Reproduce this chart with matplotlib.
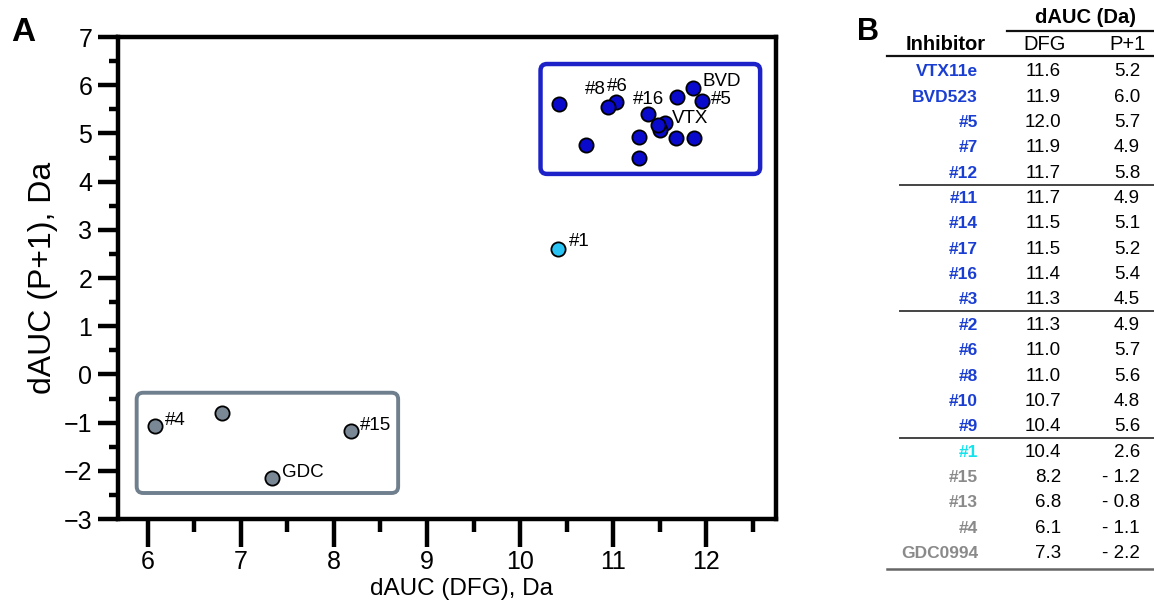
import matplotlib.pyplot as plt
from matplotlib.patches import FancyBboxPatch
from matplotlib import font_manager
import numpy as np

plt.rcParams['font.family'] = ['Liberation Sans', 'DejaVu Sans']

# table data (panel B)
names = ['VTX11e', 'BVD523', '#5', '#7', '#12', '#11', '#14', '#17', '#16', '#3',
         '#2', '#6', '#8', '#10', '#9', '#1', '#15', '#13', '#4', 'GDC0994']
dfg = [11.6, 11.9, 12.0, 11.9, 11.7, 11.7, 11.5, 11.5, 11.4, 11.3,
       11.3, 11.0, 11.0, 10.7, 10.4, 10.4, 8.2, 6.8, 6.1, 7.3]
p1 = [5.2, 6.0, 5.7, 4.9, 5.8, 4.9, 5.1, 5.2, 5.4, 4.5,
      4.9, 5.7, 5.6, 4.8, 5.6, 2.6, -1.2, -0.8, -1.1, -2.2]
group = ['blue'] * 15 + ['cyan'] + ['gray'] * 4

# point positions (panel A), same order as names
plot_x = [11.56, 11.86, 11.95, 11.87, 11.69, 11.68, 11.50, 11.48, 11.38, 11.28,
          11.28, 11.03, 10.95, 10.71, 10.42, 10.41, 8.18, 6.80, 6.08, 7.33]
plot_y = [5.22, 5.94, 5.67, 4.90, 5.75, 4.90, 5.07, 5.17, 5.40, 4.50,
          4.92, 5.65, 5.54, 4.77, 5.62, 2.60, -1.17, -0.81, -1.07, -2.14]

# labels drawn next to some points: text, offset (pt), ha
point_labels = {
    'BVD523': ('BVD', (7, 4.9), 'left'),
    '#5': ('#5', (6.5, 1.4), 'left'),
    'VTX11e': ('VTX', (4.8, 3.4), 'left'),
    '#16': ('#16', (0, 10.3), 'center'),
    '#8': ('#8', (-1.7, 12.8), 'right'),
    '#6': ('#6', (1.3, 11.4), 'center'),
    '#1': ('#1', (8, 5.5), 'left'),
    '#4': ('#4', (7.2, 4.3), 'left'),
    '#15': ('#15', (6.7, 3.7), 'left'),
    'GDC0994': ('GDC', (7.2, 3.7), 'left'),
}

fill = {'blue': '#0a0acd', 'cyan': '#2ac4f4', 'gray': '#7a8896'}
name_col = {'blue': '#1a3ed2', 'cyan': '#12e4ee', 'gray': '#8a8a8a'}

# condensed font for the axis texts if present
try:
    font_manager.findfont('Liberation Sans Narrow', fallback_to_default=False)
    axfam = ['Liberation Sans Narrow', 'Liberation Sans']
    tick_fs, xl_fs, yl_fs = 21, 22, 24
except ValueError:
    axfam = ['Liberation Sans', 'DejaVu Sans']
    tick_fs, xl_fs, yl_fs = 18, 17.5, 23

fig = plt.figure(figsize=(11.54, 6.13), dpi=100)
ax = fig.add_axes([0.1023, 0.1533, 0.5701, 0.7863])

for n, x, y, g in zip(names, plot_x, plot_y, group):
    ax.scatter(x, y, s=105, c=fill[g], edgecolors='black', linewidths=1.3, zorder=3)
    if n in point_labels:
        t, off, ha = point_labels[n]
        ax.annotate(t, (x, y), xytext=off, textcoords='offset points',
                    ha=ha, va='center', fontsize=13.5, zorder=4)

# rounded group boxes
asp = 93.1 / 48.2
ax.add_patch(FancyBboxPatch((10.22, 4.16), 2.36, 2.28,
                            boxstyle='round,pad=0,rounding_size=0.07',
                            mutation_aspect=asp, fill=False,
                            edgecolor='#1c22c8', linewidth=3.2, zorder=2))
ax.add_patch(FancyBboxPatch((5.88, -2.46), 2.81, 2.08,
                            boxstyle='round,pad=0,rounding_size=0.07',
                            mutation_aspect=asp, fill=False,
                            edgecolor='#6f7f8e', linewidth=2.8, zorder=2))

ax.set_xlim(5.68, 12.75)
ax.set_ylim(-3, 7)
ax.set_xticks(range(6, 13))
ax.set_xticks(np.arange(6.5, 12.6, 1), minor=True)
ax.set_yticks(range(-3, 8))
ax.set_yticks(np.arange(-2.5, 7, 1), minor=True)
for s in ax.spines.values():
    s.set_linewidth(3.2)
ax.tick_params(axis='x', which='major', length=20, width=3.2, labelsize=tick_fs, pad=2)
ax.tick_params(axis='x', which='minor', length=9.5, width=3.2)
ax.tick_params(axis='y', which='major', length=14.5, width=3.2, labelsize=tick_fs, pad=4)
ax.tick_params(axis='y', which='minor', length=6.5, width=3.2)
for lab in ax.get_xticklabels() + ax.get_yticklabels():
    lab.set_family(axfam)
ax.set_xlabel('dAUC (DFG), Da', fontsize=xl_fs, family=axfam)
ax.set_ylabel('dAUC (P+1), Da', fontsize=yl_fs, labelpad=4, family=axfam)
ax.xaxis.set_label_coords(0.522, -0.122)

fig.text(0.0204, 0.947, 'A', fontsize=24, fontweight='bold', ha='center', va='center')
fig.text(0.752, 0.947, 'B', fontsize=22, fontweight='bold', ha='center', va='center')

# table panel (x in pixels, y in row units)
tx = fig.add_axes([880 / 1154, 0, 274 / 1154, 1])
tx.set_xlim(880, 1154)
tx.set_ylim(21.34, -2.826)
tx.axis('off')

tx.text(1085.5, -2.14, 'dAUC (Da)', fontsize=14.5, fontweight='bold', ha='center', va='center')
tx.text(986, -1.09, 'Inhibitor', fontsize=14.5, fontweight='bold', ha='right', va='center')
tx.text(1045, -1.09, 'DFG', fontsize=14.5, ha='center', va='center')
tx.text(1127.5, -1.09, 'P+1', fontsize=14.5, ha='center', va='center')
tx.plot([1006.7, 1154], [-1.62, -1.62], color='#111111', lw=1.6)
tx.plot([887, 1154], [-0.62, -0.62], color='#111111', lw=1.6)
for yy in [4.45, 9.45, 14.45]:
    tx.plot([900, 1154], [yy, yy], color='#444444', lw=1.4)
tx.plot([887, 1154], [19.6, 19.6], color='#666666', lw=1.8)

for i, (n, x, y, g) in enumerate(zip(names, dfg, p1, group)):
    tx.text(978, i, n, fontsize=12.5, fontweight='bold', color=name_col[g], ha='right', va='center')
    tx.text(1061, i, f'{x:.1f}', fontsize=13.5, ha='right', va='center')
    ps = f'{y:.1f}' if y >= 0 else f'- {abs(y):.1f}'
    tx.text(1140, i, ps, fontsize=13.5, ha='right', va='center')

fig.savefig('out.png', dpi=100)
